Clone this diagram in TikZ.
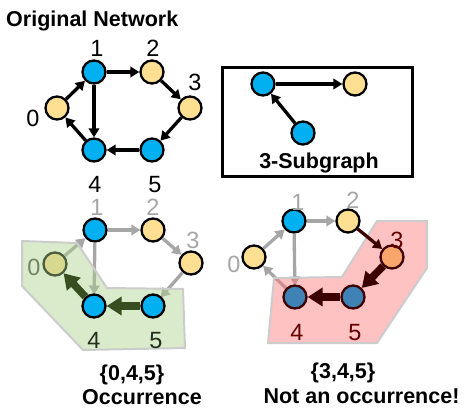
\documentclass[tikz,border=0pt]{standalone}
\usepackage{fontspec}
\setmainfont{Liberation Sans}
\usetikzlibrary{arrows.meta}
\definecolor{netblue}{HTML}{00B0F0}
\definecolor{netyellow}{HTML}{FFE093}
\definecolor{netgray}{HTML}{A6A6A6}
\definecolor{okgreen}{HTML}{AAD28C}
\definecolor{okdark}{HTML}{384E20}
\definecolor{badpink}{HTML}{FF7878}
\definecolor{baddark}{HTML}{3C0000}
\definecolor{badorange}{HTML}{F9A66C}
\definecolor{badblue}{HTML}{3F82B6}
\begin{document}
\begin{tikzpicture}[x=1pt,y=-1pt,
  vtx/.style={circle,draw,line width=2.3pt,minimum size=23pt,inner sep=0pt},
  bl/.style={vtx,fill=netblue},
  yl/.style={vtx,fill=netyellow},
  num/.style={anchor=base,inner sep=0pt,font=\fontsize{23.5}{26}\selectfont},
  ttl/.style={anchor=base,inner sep=0pt,font=\bfseries\fontsize{21.5}{24}\selectfont},
  arr/.style={line width=3.3pt,-{Triangle[length=9pt,width=10.5pt]}},
  garr/.style={arr,draw=netgray,color=netgray},
  fat/.style={line width=7.5pt,-{Triangle[length=15pt,width=18pt]}},
  region/.style={draw=black!20,line width=2pt,fill opacity=0.45},
]
\useasboundingbox (0,0) rectangle (473,414);
% original network
\node[ttl,anchor=base west] (title) at (6,26.5) {Original Network};
\node[bl] (a1) at (94,72) {};
\node[yl] (a2) at (152,72) {};
\node[yl] (a3) at (190,108) {};
\node[bl] (a5) at (152,150) {};
\node[bl] (a4) at (94,150) {};
\node[yl] (a0) at (57,108) {};
\node[num] (la1) at (97,57) {1};
\node[num] (la2) at (153,57) {2};
\node[num] (la3) at (195,91) {3};
\node[num] (la0) at (33,127) {0};
\node[num] (la4) at (95,192) {4};
\node[num] (la5) at (155,192) {5};
\draw[arr] (a0)--(a1);
\draw[arr] (a1)--(a2);
\draw[arr] (a2)--(a3);
\draw[arr] (a3)--(a5);
\draw[arr] (a5)--(a4);
\draw[arr] (a4)--(a0);
\draw[arr] (a1)--(a4);

% the 3-subgraph
\node[draw,line width=3pt,minimum width=190pt,minimum height=109pt] (box) at (317.5,122) {};
\node[bl] (s1) at (263,84) {};
\node[yl] (s2) at (355,84) {};
\node[bl] (s3) at (303,133) {};
\node[ttl] (stxt) at (319,168) {3-Subgraph};
\draw[arr] (s1)--(s2);
\draw[arr] (s3)--(s1);

% occurrence {0,4,5}
\node[bl] (b1) at (95,230) {};
\node[yl] (b2) at (153,230) {};
\node[yl] (b3) at (191,263) {};
\node[yl] (b0) at (55,264) {};
\draw[garr] (b0)--(b1);
\draw[garr] (b1)--(b2);
\draw[garr] (b2)--(b3);
\coordinate (b4p) at (94,306);
\coordinate (b5p) at (153,306);
\draw[garr,shorten >=11.5pt] (b3)--(b5p);
\draw[garr,shorten >=11.5pt] (b1)--(b4p);
\fill[region,fill=okgreen] (22,241)--(77,243)--(107,288)--(183,289)--(185,348)--(83,350)--(22,286)--cycle;
\node[bl] (b4) at (b4p) {};
\node[bl] (b5) at (b5p) {};
\draw[fat,okdark] (b5)--(b4);
\draw[fat,okdark] (b4)--(b0);
\node[num,netgray] (lb1) at (97,215) {1};
\node[num,netgray] (lb2) at (153,215) {2};
\node[num,netgray] (lb3) at (193,248) {3};
\node[num,color=black!45!okgreen!70!netgray] (lb0) at (34,275) {0};
\node[num,color=black!78!okgreen] (lb4) at (94,348) {4};
\node[num,color=black!78!okgreen] (lb5) at (156,348) {5};
\node[ttl] (ok1) at (132,380) {\{0,4,5\}};
\node[ttl] (ok2) at (142,404) {Occurrence};

% not an occurrence {3,4,5}
\node[bl] (c1) at (294,221) {};
\node[yl] (c2) at (348,221) {};
\node[yl] (c0) at (254,257) {};
\coordinate (c3p) at (392,257);
\coordinate (c4p) at (295,297);
\coordinate (c5p) at (353,297);
\draw[garr] (c0)--(c1);
\draw[garr] (c1)--(c2);
\draw[garr,shorten >=11.5pt] (c1)--(c4p);
\draw[garr,shorten <=11.5pt] (c4p)--(c0);
\fill[region,fill=badpink] (377,221)--(427,221)--(427,268)--(377,343)--(268,343)--(274,278)--(342,277)--cycle;
\node[vtx,draw=baddark,fill=badorange] (c3) at (c3p) {};
\node[vtx,draw=baddark,fill=badblue] (c4) at (c4p) {};
\node[vtx,draw=baddark,fill=badblue] (c5) at (c5p) {};
\draw[arr,baddark] (c2)--(c3);
\draw[fat,baddark] (c3)--(c5);
\draw[fat,baddark] (c5)--(c4);
\node[num,netgray] (lc1) at (298,210) {1};
\node[num,netgray] (lc2) at (353,208) {2};
\node[num,color=baddark!80!red] (lc3) at (397,248) {3};
\node[num,netgray] (lc0) at (234,272) {0};
\node[num,color=baddark!80!red] (lc4) at (297,340) {4};
\node[num,color=baddark!80!red] (lc5) at (355,340) {5};
\node[ttl] (bad1) at (343,378) {\{3,4,5\}};
\node[ttl] (bad2) at (361.5,403) {Not an occurrence!};
\end{tikzpicture}
\end{document}
